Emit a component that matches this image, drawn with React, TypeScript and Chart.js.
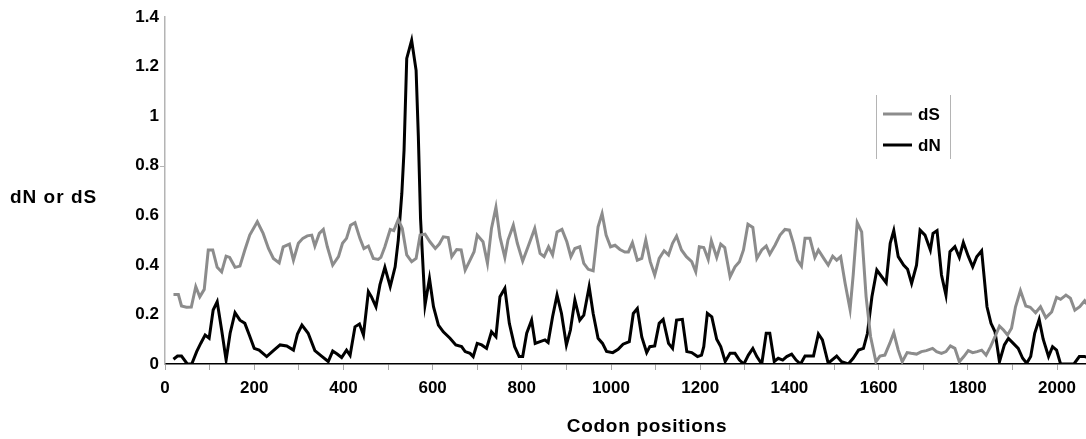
import React, { useEffect, useRef } from "react";
import { Chart, registerables } from "chart.js";

Chart.register(...registerables);

// dS series (synonymous), codon position / value
const dsPositions = [
  19, 30, 37, 48, 59, 69, 78, 88, 97, 107, 117, 127, 137, 145, 157, 168, 179, 190, 207, 220,
  232, 243, 256, 265, 279, 288, 299, 309, 319, 329, 336, 346, 355, 364, 376, 389, 398, 407, 416, 426,
  437, 446, 456, 467, 478, 484, 493, 505, 513, 523, 532, 542, 553, 563, 572, 583, 594, 606, 615, 624,
  635, 643, 654, 664, 673, 684, 693, 700, 713, 723, 732, 742, 751, 762, 769, 781, 790, 802, 814, 829,
  841, 850, 860, 869, 879, 890, 901, 910, 919, 930, 939, 949, 960, 971, 980, 989, 999, 1009, 1020, 1031,
  1039, 1048, 1059, 1069, 1078, 1088, 1098, 1108, 1119, 1129, 1138, 1147, 1158, 1169, 1181, 1190, 1198, 1208, 1218, 1225,
  1237, 1246, 1255, 1267, 1278, 1288, 1297, 1307, 1318, 1327, 1338, 1348, 1356, 1368, 1379, 1390, 1400, 1409, 1418, 1427,
  1435, 1446, 1457, 1465, 1477, 1487, 1497, 1506, 1515, 1525, 1536, 1543, 1552, 1562, 1572, 1582, 1594, 1603, 1614, 1625,
  1634, 1644, 1653, 1664, 1673, 1685, 1696, 1707, 1721, 1730, 1741, 1751, 1761, 1771, 1781, 1791, 1801, 1811, 1821, 1831,
  1841, 1851, 1861, 1871, 1880, 1889, 1898, 1907, 1918, 1930, 1940, 1952, 1963, 1975, 1988, 1999, 2008, 2020, 2030, 2040,
  2051, 2062, 2072,
];
const dsValues = [
  0.28, 0.28, 0.234, 0.229, 0.23, 0.312, 0.271, 0.301, 0.46, 0.46, 0.39, 0.372, 0.435, 0.43, 0.39, 0.395, 0.46, 0.52, 0.574, 0.527,
  0.466, 0.426, 0.408, 0.473, 0.484, 0.419, 0.487, 0.507, 0.517, 0.52, 0.476, 0.527, 0.543, 0.473, 0.399, 0.433, 0.487, 0.507, 0.56, 0.57,
  0.507, 0.466, 0.476, 0.426, 0.422, 0.43, 0.473, 0.543, 0.538, 0.583, 0.547, 0.44, 0.413, 0.426, 0.52, 0.524, 0.493, 0.466, 0.484, 0.513,
  0.51, 0.433, 0.462, 0.46, 0.379, 0.419, 0.453, 0.52, 0.493, 0.406, 0.547, 0.632, 0.513, 0.43, 0.5, 0.56, 0.487, 0.415, 0.473, 0.547,
  0.446, 0.433, 0.473, 0.44, 0.533, 0.543, 0.493, 0.433, 0.466, 0.473, 0.406, 0.382, 0.376, 0.554, 0.607, 0.52, 0.473, 0.479, 0.462, 0.452,
  0.452, 0.489, 0.419, 0.426, 0.5, 0.413, 0.359, 0.426, 0.457, 0.44, 0.487, 0.516, 0.46, 0.433, 0.413, 0.372, 0.473, 0.47, 0.422, 0.497,
  0.43, 0.484, 0.47, 0.352, 0.392, 0.413, 0.46, 0.564, 0.551, 0.426, 0.46, 0.476, 0.443, 0.48, 0.52, 0.543, 0.54, 0.487, 0.419, 0.395,
  0.507, 0.507, 0.43, 0.46, 0.426, 0.399, 0.435, 0.419, 0.433, 0.325, 0.22, 0.359, 0.57, 0.533, 0.271, 0.11, 0.009, 0.032, 0.036, 0.083,
  0.126, 0.056, 0.009, 0.046, 0.043, 0.04, 0.05, 0.054, 0.063, 0.05, 0.043, 0.05, 0.073, 0.063, 0.009, 0.03, 0.054, 0.046, 0.05, 0.056,
  0.036, 0.07, 0.11, 0.153, 0.137, 0.117, 0.144, 0.231, 0.296, 0.234, 0.229, 0.207, 0.231, 0.187, 0.21, 0.269, 0.261, 0.278, 0.265, 0.217,
  0.231, 0.255, 0.23,
];

// dN series (non-synonymous), codon position / value
const dnPositions = [
  19, 28, 37, 50, 60, 71, 80, 90, 99, 108, 117, 127, 137, 146, 157, 168, 179, 189, 200, 211,
  228, 243, 258, 273, 288, 297, 307, 321, 336, 351, 366, 376, 386, 396, 407, 415, 426, 436, 445, 456,
  463, 473, 482, 493, 505, 516, 523, 531, 536, 542, 553, 563, 568, 573, 583, 593, 602, 613, 624, 639,
  652, 665, 673, 684, 691, 700, 710, 721, 732, 742, 751, 762, 772, 784, 794, 802, 811, 822, 830, 841,
  852, 859, 869, 879, 889, 900, 909, 919, 930, 939, 951, 960, 971, 981, 990, 1004, 1016, 1027, 1041, 1050,
  1059, 1069, 1080, 1087, 1098, 1108, 1117, 1129, 1138, 1147, 1160, 1170, 1181, 1194, 1203, 1208, 1216, 1226, 1237, 1246,
  1256, 1267, 1278, 1288, 1298, 1308, 1318, 1327, 1338, 1348, 1356, 1366, 1375, 1385, 1394, 1405, 1415, 1425, 1435, 1444,
  1454, 1465, 1474, 1487, 1506, 1517, 1532, 1543, 1555, 1566, 1575, 1585, 1596, 1607, 1617, 1626, 1634, 1644, 1656, 1665,
  1674, 1685, 1693, 1704, 1716, 1722, 1731, 1741, 1751, 1760, 1771, 1781, 1790, 1801, 1811, 1820, 1831, 1843, 1852, 1861,
  1871, 1882, 1891, 1902, 1913, 1923, 1932, 1941, 1950, 1960, 1969, 1981, 1990, 1999, 2008, 2038, 2050, 2062, 2072,
];
const dnValues = [
  0.019, 0.032, 0.032, 0, 0, 0.05, 0.083, 0.117, 0.104, 0.218, 0.251, 0.137, 0.016, 0.124, 0.207, 0.177, 0.164, 0.117, 0.063, 0.056,
  0.03, 0.054, 0.077, 0.073, 0.056, 0.121, 0.157, 0.124, 0.054, 0.032, 0.01, 0.052, 0.04, 0.026, 0.056, 0.035, 0.15, 0.161, 0.117, 0.292,
  0.271, 0.231, 0.32, 0.39, 0.312, 0.392, 0.5, 0.688, 0.863, 1.233, 1.306, 1.185, 0.92, 0.585, 0.238, 0.345, 0.231, 0.157, 0.13, 0.104,
  0.077, 0.07, 0.05, 0.043, 0.03, 0.083, 0.077, 0.063, 0.13, 0.11, 0.271, 0.305, 0.164, 0.07, 0.03, 0.03, 0.124, 0.177, 0.083, 0.09,
  0.097, 0.087, 0.191, 0.278, 0.204, 0.077, 0.137, 0.258, 0.177, 0.197, 0.312, 0.204, 0.104, 0.083, 0.051, 0.046, 0.059, 0.08, 0.09, 0.204,
  0.224, 0.109, 0.046, 0.07, 0.073, 0.164, 0.18, 0.083, 0.063, 0.177, 0.18, 0.05, 0.046, 0.03, 0.036, 0.07, 0.204, 0.19, 0.1, 0.07,
  0.01, 0.043, 0.043, 0.016, 0, 0.036, 0.063, 0.03, 0, 0.124, 0.124, 0.01, 0.023, 0.016, 0.03, 0.04, 0.016, 0, 0.032, 0.032,
  0.032, 0.121, 0.097, 0.003, 0.032, 0.009, 0, 0.023, 0.056, 0.063, 0.124, 0.271, 0.379, 0.352, 0.328, 0.487, 0.538, 0.433, 0.399, 0.382,
  0.325, 0.399, 0.54, 0.52, 0.46, 0.527, 0.538, 0.359, 0.278, 0.453, 0.473, 0.43, 0.49, 0.435, 0.392, 0.433, 0.457, 0.231, 0.164, 0.13,
  0.009, 0.077, 0.103, 0.083, 0.063, 0.023, 0.003, 0.03, 0.124, 0.18, 0.1, 0.03, 0.07, 0.056, 0, 0, 0.03, 0.03, 0.024,
];

const xTickValues = [
  0, 100, 200, 300, 400, 500, 600, 700, 800, 900, 1000, 1100, 1200, 1300, 1400, 1500, 1600, 1700, 1800, 1900, 2000,
];
const yTickValues = [0, 0.2, 0.4, 0.6, 0.8, 1, 1.2, 1.4];

const seriesNames = ["dS", "dN"];
const seriesColors = ["#8c8c8c", "#000000"];
const yAxisTitle = "dN or dS";
const xAxisTitle = "Codon positions";

const FONT = '"Liberation Sans", Arial, sans-serif';

const overlayPlugin = {
  id: "overlay",
  afterDraw(chart: any) {
    const ctx = chart.ctx;
    ctx.save();
    ctx.fillStyle = "#000";
    ctx.font = `bold 19px ${FONT}`;
    ctx.textAlign = "left";
    ctx.textBaseline = "alphabetic";
    (ctx as any).letterSpacing = "1px";
    ctx.fillText(yAxisTitle, 10, 203);
    (ctx as any).letterSpacing = "0.7px";
    ctx.textAlign = "center";
    ctx.fillText(xAxisTitle, 647, 432);
    (ctx as any).letterSpacing = "0px";

    // small tick on the value axis (as in the original)
    const yScale = chart.scales.y;
    const y08 = Math.round(yScale.getPixelForValue(0.8)) + 0.5;
    ctx.strokeStyle = "#b4b4b4";
    ctx.lineWidth = 1;
    ctx.beginPath();
    ctx.moveTo(160, y08);
    ctx.lineTo(165, y08);
    ctx.stroke();

    // legend
    ctx.strokeStyle = "#b4b4b4";
    ctx.lineWidth = 1;
    ctx.beginPath();
    ctx.moveTo(876.5, 95);
    ctx.lineTo(876.5, 159);
    ctx.moveTo(950.5, 95);
    ctx.lineTo(950.5, 159);
    ctx.stroke();
    const rows = [114, 145];
    ctx.font = `bold 17px ${FONT}`;
    ctx.textAlign = "left";
    ctx.textBaseline = "middle";
    seriesNames.forEach((name, i) => {
      ctx.strokeStyle = seriesColors[i];
      ctx.lineWidth = 3;
      ctx.beginPath();
      ctx.moveTo(883, rows[i]);
      ctx.lineTo(912, rows[i]);
      ctx.stroke();
      ctx.fillStyle = "#000";
      ctx.fillText(name, 918, rows[i] + 1);
    });
    ctx.restore();
  },
};

export default function App() {
  const canvasRef = useRef<HTMLCanvasElement | null>(null);

  useEffect(() => {
    if (!canvasRef.current) return;
    const dsData = dsPositions.map((x, i) => ({ x, y: dsValues[i] }));
    const dnData = dnPositions.map((x, i) => ({ x, y: dnValues[i] }));
    const chart = new Chart(canvasRef.current, {
      type: "line",
      data: {
        datasets: [
          {
            label: seriesNames[0],
            data: dsData,
            borderColor: seriesColors[0],
            borderWidth: 3,
            pointRadius: 0,
            tension: 0,
            fill: false,
          },
          {
            label: seriesNames[1],
            data: dnData,
            borderColor: seriesColors[1],
            borderWidth: 3,
            pointRadius: 0,
            tension: 0,
            fill: false,
          },
        ],
      },
      options: {
        responsive: false,
        animation: false,
        layout: { padding: { top: 17, right: 0, left: 0, bottom: 0 } },
        plugins: {
          legend: { display: false },
          tooltip: { enabled: false },
        },
        scales: {
          x: {
            type: "linear",
            min: 0,
            max: 2065,
            afterBuildTicks: (scale: any) => {
              scale.ticks = xTickValues.map((v) => ({ value: v }));
            },
            afterFit: (scale: any) => {
              scale.height = 75;
            },
            ticks: {
              autoSkip: false,
              maxRotation: 0,
              padding: 8,
              color: "#000",
              font: { family: FONT, size: 17, weight: "bold" },
              callback: (v: any) => (Number(v) % 200 === 0 ? String(v) : ""),
            },
            grid: {
              display: true,
              drawOnChartArea: false,
              drawTicks: true,
              tickLength: 6,
              color: "#a8a8a8",
              lineWidth: 1,
            },
            border: { display: true, color: "#000", width: 1.5 },
          },
          y: {
            type: "linear",
            min: 0,
            max: 1.4,
            afterBuildTicks: (scale: any) => {
              scale.ticks = yTickValues.map((v) => ({ value: v }));
            },
            afterFit: (scale: any) => {
              scale.width = 165;
            },
            ticks: {
              padding: 6,
              color: "#000",
              font: { family: FONT, size: 17, weight: "bold" },
              callback: (v: any) => String(Math.round(Number(v) * 10) / 10),
            },
            grid: { display: false, drawTicks: false, tickLength: 0 },
            border: { display: true, color: "#b4b4b4", width: 1.5 },
          },
        },
      },
      plugins: [overlayPlugin],
    });
    return () => chart.destroy();
  }, []);

  return (
    <div style={{ position: "fixed", left: 0, top: 0, width: 1086, height: 439, background: "#fff" }}>
      <canvas ref={canvasRef} width={1086} height={439} style={{ display: "block" }} />
    </div>
  );
}
